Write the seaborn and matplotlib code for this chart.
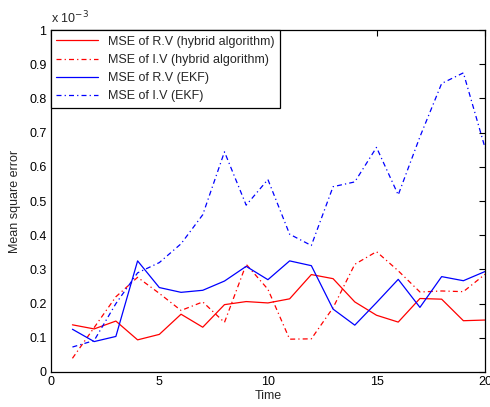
import numpy as np
import pandas as pd
import matplotlib
matplotlib.use("Agg")
import matplotlib.pyplot as plt
import seaborn as sns

time = list(range(1, 21))
rv_hybrid = [0.138, 0.126, 0.149, 0.094, 0.110, 0.169, 0.131, 0.197, 0.206, 0.202,
             0.214, 0.285, 0.273, 0.205, 0.166, 0.146, 0.215, 0.213, 0.150, 0.152]
iv_hybrid = [0.040, 0.130, 0.220, 0.277, 0.230, 0.180, 0.205, 0.145, 0.315, 0.242,
             0.096, 0.097, 0.188, 0.315, 0.352, 0.296, 0.234, 0.237, 0.235, 0.286]
rv_ekf = [0.125, 0.089, 0.104, 0.325, 0.247, 0.233, 0.239, 0.266, 0.309, 0.270,
          0.325, 0.311, 0.184, 0.137, 0.203, 0.271, 0.189, 0.279, 0.267, 0.294]
iv_ekf = [0.073, 0.092, 0.200, 0.290, 0.320, 0.375, 0.460, 0.644, 0.488, 0.563,
          0.403, 0.370, 0.542, 0.556, 0.657, 0.518, 0.688, 0.844, 0.875, 0.655]

labels = ["MSE of R.V (hybrid algorithm)", "MSE of I.V (hybrid algorithm)",
          "MSE of R.V (EKF)", "MSE of I.V (EKF)"]
series = [rv_hybrid, iv_hybrid, rv_ekf, iv_ekf]

df = pd.concat([pd.DataFrame({"Time": time, "MSE": s, "Series": lab})
                for lab, s in zip(labels, series)], ignore_index=True)

sns.set_style("white")
plt.rcParams["font.family"] = ["Liberation Sans", "DejaVu Sans"]
plt.rcParams["font.size"] = 9

fig = plt.figure(figsize=(4.9, 4.07), dpi=100)
ax = fig.add_axes([0.1035, 0.086, 0.8865, 0.840])

palette = {labels[0]: "#ff0000", labels[1]: "#ff0000",
           labels[2]: "#0000ff", labels[3]: "#0000ff"}
dd = (4, 2.5, 1, 2.5)
dashes = {labels[0]: "", labels[1]: dd, labels[2]: "", labels[3]: dd}

sns.lineplot(data=df, x="Time", y="MSE", hue="Series", style="Series",
             palette=palette, dashes=dashes, hue_order=labels, style_order=labels,
             linewidth=0.9, ax=ax)

ax.set_xlim(0, 20)
ax.set_ylim(0, 1)
ax.set_xticks([0, 5, 10, 15, 20])
yt = np.round(np.arange(0, 1.01, 0.1), 1)
ax.set_yticks(yt)
ax.set_yticklabels(["0"] + [f"{v:g}" for v in yt[1:-1]] + ["1"])
ax.tick_params(direction="in", top=True, right=True, length=4, width=0.8,
               labelsize=9, colors="black", pad=3)
for sp in ax.spines.values():
    sp.set_color("black")
    sp.set_linewidth(0.9)
ax.set_xlabel("Time", fontsize=9, labelpad=1)
ax.set_ylabel("Mean square error", fontsize=9, labelpad=6)
ax.text(0.0, 1.012, r"x 10$^{-3}$", transform=ax.transAxes, ha="left", va="bottom",
        fontsize=9)

leg = ax.legend(loc="upper left", borderaxespad=0, fancybox=False, framealpha=1,
                edgecolor="black", fontsize=9, handlelength=3.3, title=None,
                borderpad=0.45)
leg.get_frame().set_linewidth(0.9)

fig.savefig("out.png", dpi=100)
